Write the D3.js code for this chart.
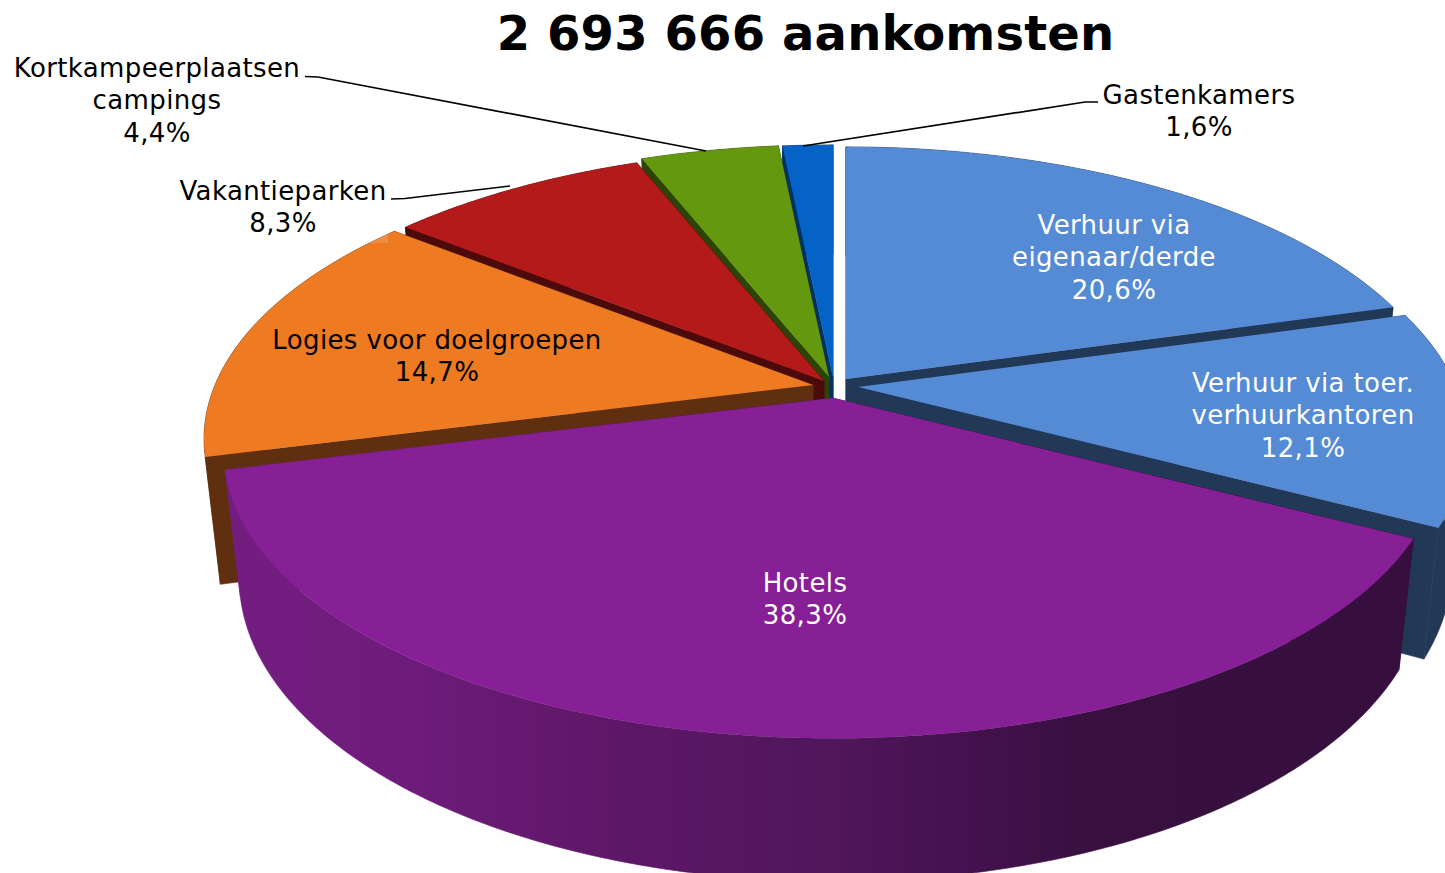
<!DOCTYPE html>
<html><head><meta charset="utf-8">
<script src="https://cdn.jsdelivr.net/npm/d3@7/dist/d3.min.js"></script>
<style>html,body{margin:0;padding:0;background:#fff;overflow:hidden}svg{display:block}
text{font-family:"DejaVu Sans",sans-serif}</style></head><body>
<svg id="c" width="1445" height="873"></svg>
<script>
const title = "2 693 666 aankomsten";
const categories = ["Verhuur via eigenaar/derde","Verhuur via toer. verhuurkantoren","Hotels","Logies voor doelgroepen","Vakantieparken","Kortkampeerplaatsen campings","Gastenkamers"];
const values = [20.6,12.1,38.3,14.7,8.3,4.4,1.6];
const topColors = ["#558ad4","#558ad4","#872096","#ee7a22","#b41a1a","#64980f","#0563c8"];
const wallColors = ["#223857","#223857","url(#hotelWall)","#5f2f10","#4d0a0a","#2c440a","#033263"];
// slice tip after explosion
const tipX = [846,858,833,813,824,829,833];
const tipY = [379,387,398,385,381,377,377];
// painter's order: back to front
const drawOrder = [6,5,4,3,0,1,2];
const labelLines = [["Verhuur via","eigenaar/derde","20,6%"],["Verhuur via toer.","verhuurkantoren","12,1%"],["Hotels","38,3%"],["Logies voor doelgroepen","14,7%"],["Vakantieparken","8,3%"],["Kortkampeerplaatsen","campings","4,4%"],["Gastenkamers","1,6%"]];
const labelX = [1114,1303,805,437,283,157,1199];
const labelY = [234,392,592,349,200,77,104];
const labelFill = ["#fff","#fff","#fff","#000","#000","#000","#000"];

const RX=598, RY=276, P=0.189, BOTTOM=0.975, H=123;
const svg=d3.select("#c");
const defs=svg.append("defs");
const g=defs.append("linearGradient").attr("id","hotelWall").attr("gradientUnits","userSpaceOnUse")
  .attr("x1",225).attr("x2",1410).attr("y1",0).attr("y2",0);
[[0,"#741d81"],[0.15,"#6e1c7b"],[0.32,"#5f1769"],[0.5,"#52165d"],[0.66,"#40114a"],[0.74,"#37103e"],[1,"#370f3f"]]
 .forEach(([o,c])=>g.append("stop").attr("offset",o).attr("stop-color",c));

const pie=d3.pie().sort(null).value(d=>d);
const arcs=pie(values);
const line=d3.line();
function proj(i,a,r,bottom){
  const u=Math.sin(a)*r, v=-Math.cos(a)*r, s=1/(1-P*v);
  const x=RX*u*s, y=RY*v*s;
  return bottom ? [tipX[i]+x*BOTTOM, tipY[i]+y*BOTTOM+H*s] : [tipX[i]+x, tipY[i]+y];
}
function sample(a0,a1){const n=Math.max(2,Math.ceil((a1-a0)/0.01));return d3.range(n+1).map(k=>a0+(a1-a0)*k/n);}
const pieG=svg.append("g");
drawOrder.forEach(i=>{
  const {startAngle:a0,endAngle:a1}=arcs[i];
  const gs=pieG.append("g");
  const fill=wallColors[i];
  const wall=pts=>gs.append("path").attr("d",line(pts)+"Z").attr("fill",fill).attr("stroke",fill).attr("stroke-width",0.6);
  [a0,a1].forEach(a=>wall([proj(i,a,0),proj(i,a,1),proj(i,a,1,true),proj(i,a,0,true)]));
  const as=sample(a0,a1);
  wall(as.map(a=>proj(i,a,1)).concat(as.slice().reverse().map(a=>proj(i,a,1,true))));
  gs.append("path").attr("d",line([proj(i,a0,0)].concat(as.map(a=>proj(i,a,1))))+"Z").attr("fill",topColors[i]);
});
// faint label box left by the source image
svg.append("rect").attr("x",340).attr("y",205).attr("width",48).attr("height",38).attr("fill","#fff").attr("opacity",0.15);

const leaders=[[[305,76.5],[318,77],[706,151]],[[1098,102],[1085,102],[803,146]],[[391,199],[405,198.5],[510,186]]];
svg.append("g").selectAll("path").data(leaders).join("path").attr("d",d=>line(d)).attr("fill","none").attr("stroke","#000").attr("stroke-width",1.7);

svg.append("text").attr("x",805.5).attr("y",50).attr("text-anchor","middle").attr("font-size",48).attr("font-weight","bold").attr("letter-spacing",0.15).text(title);
labelLines.forEach((ls,i)=>{
  ls.forEach((t,k)=>svg.append("text").attr("x",labelX[i]).attr("y",labelY[i]+k*32.4)
    .attr("text-anchor","middle").attr("font-size",26).attr("letter-spacing",0.37).attr("fill",labelFill[i]).text(t));
});
</script></body></html>
